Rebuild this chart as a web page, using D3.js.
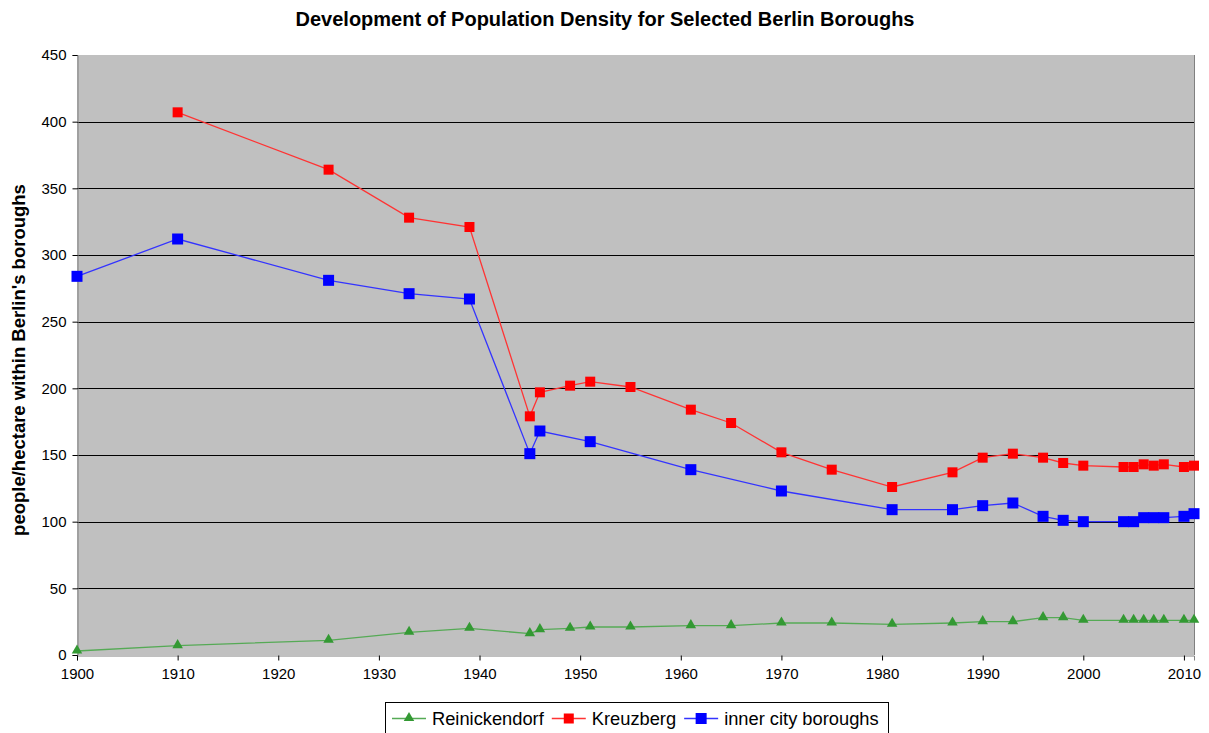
<!DOCTYPE html>
<html>
<head>
<meta charset="utf-8">
<script src="https://cdn.jsdelivr.net/npm/d3@7"></script>
<style>
body { margin: 0; background: #fff; }
text { font-family: "Liberation Sans", Arial, sans-serif; }
</style>
</head>
<body>
<svg id="chart" width="1209" height="733"></svg>
<script>
var W = 1209, H = 733;

// data
var reinYears = [1900, 1910, 1925, 1933, 1939, 1945, 1946, 1949, 1951, 1955, 1961, 1965, 1970, 1975, 1981, 1987, 1990, 1993, 1996, 1998, 2000, 2004, 2005, 2006, 2007, 2008, 2010, 2011];
var reinValues = [3, 7, 11, 17, 20, 16, 19, 20, 21, 21, 22, 22, 24, 24, 23, 24, 25, 25, 28, 28, 26, 26, 26, 26, 26, 26, 26, 26];

var kreuzYears = [1910, 1925, 1933, 1939, 1945, 1946, 1949, 1951, 1955, 1961, 1965, 1970, 1975, 1981, 1987, 1990, 1993, 1996, 1998, 2000, 2004, 2005, 2006, 2007, 2008, 2010, 2011];
var kreuzValues = [407, 364, 328, 321, 179, 197, 202, 205, 201, 184, 174, 152, 139, 126, 137, 148, 151, 148, 144, 142, 141, 141, 143, 142, 143, 141, 142];

var innerYears = [1900, 1910, 1925, 1933, 1939, 1945, 1946, 1951, 1961, 1970, 1981, 1987, 1990, 1993, 1996, 1998, 2000, 2004, 2005, 2006, 2007, 2008, 2010, 2011];
var innerValues = [284, 312, 281, 271, 267, 151, 168, 160, 139, 123, 109, 109, 112, 114, 104, 101, 100, 100, 100, 103, 103, 103, 104, 106];

var xTicks = [1900, 1910, 1920, 1930, 1940, 1950, 1960, 1970, 1980, 1990, 2000, 2010];
var yTicks = [0, 50, 100, 150, 200, 250, 300, 350, 400, 450];

var series = [
	{name: 'Reinickendorf', years: reinYears, values: reinValues, color: '#339933', line: '#55aa55', marker: 'triangle'},
	{name: 'Kreuzberg', years: kreuzYears, values: kreuzValues, color: '#ff0000', line: '#ff3333', marker: 'square', size: 10},
	{name: 'inner city boroughs', years: innerYears, values: innerValues, color: '#0000ff', line: '#3333ff', marker: 'square', size: 11}
];

var plot = {left: 77, top: 55, right: 1194, bottom: 655};

var x = d3.scaleLinear().domain([1900, 2011]).range([plot.left, plot.right]);
var y = d3.scaleLinear().domain([0, 450]).range([plot.bottom, plot.top]);

var svg = d3.select('#chart');

// plot area
svg.append('rect')
	.attr('x', plot.left).attr('y', plot.top)
	.attr('width', plot.right - plot.left).attr('height', plot.bottom - plot.top)
	.attr('fill', '#c0c0c0');

// gridlines
svg.append('g').selectAll('line')
	.data(yTicks.filter(function (d) { return d > 0 && d < 450; }))
	.enter().append('line')
	.attr('x1', plot.left).attr('x2', plot.right)
	.attr('y1', function (d) { return Math.round(y(d)) + 0.5; })
	.attr('y2', function (d) { return Math.round(y(d)) + 0.5; })
	.attr('stroke', '#000').attr('stroke-width', 1);

// right border
svg.append('line')
	.attr('x1', plot.right + 0.5).attr('x2', plot.right + 0.5)
	.attr('y1', plot.top).attr('y2', plot.bottom)
	.attr('stroke', '#808080');

// axes
var yAxis = d3.axisLeft(y).tickValues(yTicks).tickSize(5).tickPadding(6);
var xAxis = d3.axisBottom(x).tickValues(xTicks).tickSize(5).tickPadding(8).tickFormat(d3.format('d'));

var gy = svg.append('g').attr('transform', 'translate(' + (plot.left + 0.5) + ',0)').call(yAxis);
var gx = svg.append('g').attr('transform', 'translate(0,' + (plot.bottom + 0.5) + ')').call(xAxis);

[gx, gy].forEach(function (g) {
	g.select('.domain').attr('stroke', '#808080');
	g.selectAll('.tick line').attr('stroke', '#000');
	g.selectAll('.tick text')
		.attr('fill', '#000')
		.style('font-size', '15px')
		.style('font-family', '"Liberation Sans", Arial, sans-serif');
});

// lines and markers
var line = d3.line()
	.x(function (d) { return x(d[0]); })
	.y(function (d) { return y(d[1]); });

var tri = d3.symbol().type(d3.symbolTriangle).size(48);

function drawMarker(g, s, px, py) {
	if (s.marker == 'square') {
		g.append('rect')
			.attr('x', px - s.size / 2).attr('y', py - s.size / 2)
			.attr('width', s.size).attr('height', s.size)
			.attr('fill', s.color);
	} else {
		g.append('path')
			.attr('d', tri())
			.attr('transform', 'translate(' + px + ',' + (py - 0.5) + ')')
			.attr('fill', s.color);
	}
}

series.forEach(function (s) {
	var pts = s.years.map(function (yr, i) { return [yr, s.values[i]]; });
	var g = svg.append('g');
	g.append('path')
		.datum(pts)
		.attr('d', line)
		.attr('fill', 'none')
		.attr('stroke', s.line)
		.attr('stroke-width', 1.3);
	pts.forEach(function (p) { drawMarker(g, s, x(p[0]), y(p[1])); });
});

// title
svg.append('text')
	.attr('x', 605).attr('y', 26)
	.attr('text-anchor', 'middle')
	.style('font-size', '20px').style('font-weight', 'bold')
	.text('Development of Population Density for Selected Berlin Boroughs');

// y axis label
svg.append('text')
	.attr('transform', 'translate(25,' + 360 + ') rotate(-90)')
	.attr('text-anchor', 'middle')
	.style('font-size', '18.5px').style('font-weight', 'bold')
	.text("people/hectare within Berlin's boroughs");

// legend
var legend = svg.append('g');
legend.append('rect')
	.attr('x', 385.5).attr('y', 702.5).attr('width', 503).attr('height', 40)
	.attr('fill', '#fff').attr('stroke', '#000');

var lx = 392;
series.forEach(function (s) {
	var g = legend.append('g');
	g.append('line')
		.attr('x1', lx).attr('x2', lx + 34)
		.attr('y1', 718.5).attr('y2', 718.5)
		.attr('stroke', s.line).attr('stroke-width', 1.5);
	drawMarker(g, s, lx + 17, 718.5);
	var t = g.append('text')
		.attr('x', lx + 40).attr('y', 725)
		.style('font-size', '18.3px')
		.text(s.name);
	lx += 40 + t.node().getComputedTextLength() + 8;
});
</script>
</body>
</html>
